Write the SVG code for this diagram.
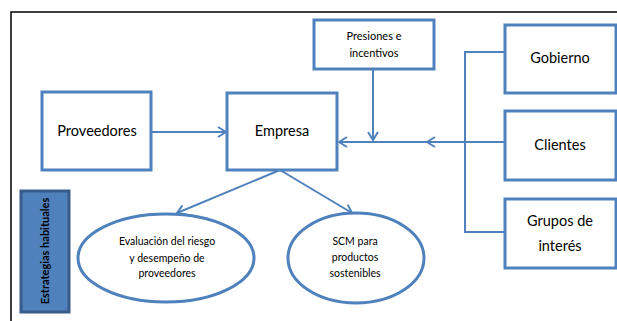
<svg xmlns="http://www.w3.org/2000/svg" width="617" height="321" viewBox="0 0 617 321">
<style>
.box{fill:#fff;stroke:#4f81bd;stroke-width:3}
.ell{fill:#fff;stroke:#4f81bd;stroke-width:3}
.t{font-family:Lato,"Liberation Sans",sans-serif;fill:#000;text-anchor:middle}
.c{fill:none;stroke:#4f81bd;stroke-width:2}
</style>
<defs>
<marker id="arr" viewBox="0 0 10 12" refX="9" refY="6" markerWidth="10" markerHeight="12" markerUnits="userSpaceOnUse" orient="auto">
<path d="M1,1 L9,6 L1,11" fill="none" stroke="#4f81bd" stroke-width="2"/>
</marker>
</defs>
<rect width="617" height="321" fill="#fff"/>
<path d="M11,321 V12 H617" fill="none" stroke="#000" stroke-width="1.5"/>
<g id="connectors">
<path class="c" d="M505,52 H465 V232 H505"/>
<path class="c" d="M151,132 H226" marker-end="url(#arr)"/>
<path class="c" d="M373,69 V140" marker-end="url(#arr)"/>
<path class="c" d="M505,142 H427" stroke-width="3" marker-end="url(#arr)"/>
<path class="c" d="M427,142 H339" marker-end="url(#arr)"/>
<path class="c" d="M280,170 L177,213" marker-end="url(#arr)"/>
<path class="c" d="M280,170 L352,213" marker-end="url(#arr)"/>
</g>
<g id="presiones">
<rect class="box" x="314" y="20" width="120" height="49"/>
<text class="t" x="374" y="40" font-size="11">Presiones e</text>
<text class="t" x="374" y="57" font-size="11">incentivos</text>
</g>
<g id="gobierno">
<rect class="box" x="505" y="25" width="111" height="68"/>
<text class="t" x="560" y="63" font-size="14.5">Gobierno</text>
</g>
<g id="clientes">
<rect class="box" x="505" y="111" width="111" height="69"/>
<text class="t" x="560" y="150" font-size="14.5">Clientes</text>
</g>
<g id="grupos">
<rect class="box" x="505" y="199" width="111" height="69"/>
<text class="t" x="560" y="226" font-size="14.5">Grupos de</text>
<text class="t" x="560" y="251" font-size="14.5">interés</text>
</g>
<g id="proveedores">
<rect class="box" x="42" y="92" width="109" height="78"/>
<text class="t" x="97" y="136" font-size="14.5">Proveedores</text>
</g>
<g id="empresa">
<rect class="box" x="227" y="93" width="110" height="77"/>
<text class="t" x="282" y="136" font-size="14.5">Empresa</text>
</g>
<g id="evaluacion">
<ellipse class="ell" cx="166" cy="258" rx="88" ry="44"/>
<text class="t" x="167" y="245" font-size="10.5">Evaluación del riesgo</text>
<text class="t" x="167" y="262" font-size="10.5">y desempeño de</text>
<text class="t" x="167" y="277" font-size="10.5">proveedores</text>
</g>
<g id="scm">
<ellipse class="ell" cx="356" cy="258" rx="68" ry="45"/>
<text class="t" x="355" y="245" font-size="10.5">SCM para</text>
<text class="t" x="355" y="261" font-size="10.5">productos</text>
<text class="t" x="355" y="277" font-size="10.5">sostenibles</text>
</g>
<g id="estrategias">
<rect x="21" y="191" width="48" height="121" fill="#4f81bd" stroke="#385d8a" stroke-width="3"/>
<text class="t" transform="translate(49,251) rotate(-90)" font-size="11" font-weight="bold" fill="#111">Estrategias habituales</text>
</g>
</svg>
